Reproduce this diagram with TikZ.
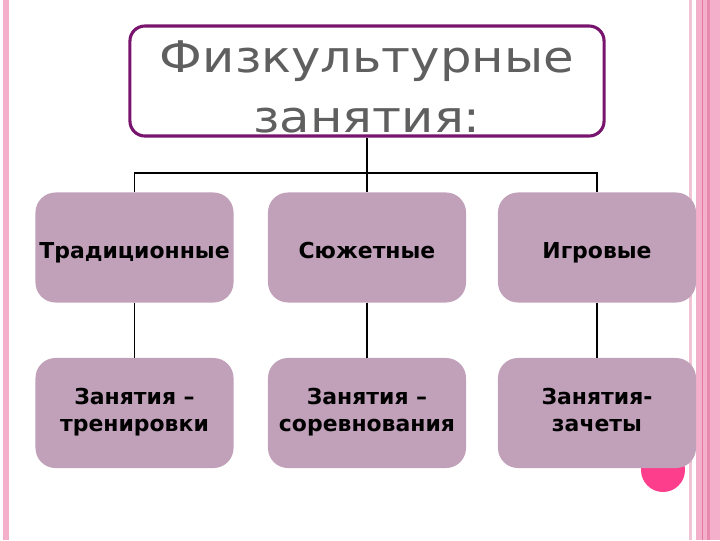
\documentclass[tikz,border=0pt]{standalone}
\usepackage{fontspec}
\setmainfont{DejaVu Sans}
\newfontfamily\titlefont[FakeStretch=1.14]{DejaVu Sans}
\usepackage{xcolor}
\usetikzlibrary{positioning}

\definecolor{framepurple}{RGB}{120,20,110}
\definecolor{titlegray}{RGB}{95,95,95}
\definecolor{mauve}{RGB}{192,161,185}
\definecolor{dotpink}{RGB}{252,62,140}
\definecolor{bandpink}{RGB}{244,176,202}
\definecolor{bandlight}{RGB}{240,196,212}
\definecolor{banddark}{RGB}{228,120,160}

\begin{document}
\begin{tikzpicture}[x=0.025cm, y=-0.025cm,
    kind/.style={fill=mauve, rounded corners=0.5cm, minimum width=4.95cm,
                 minimum height=2.75cm, align=center, inner sep=0pt,
                 font=\fontsize{15.6}{19.2}\selectfont\bfseries,
                 execute at begin node={\rule{0pt}{20pt}},
                 execute at end node={\rule[-4pt]{0pt}{4pt}}},
    conn/.style={black, line width=1.3pt}]
    % 1. Khung trang: nền trắng và các sọc hồng
    \useasboundingbox (0,0) rectangle (720,540);
    \fill[white] (0,0) rectangle (720,540);
    \fill[bandpink] (3,0) rectangle (9,540);
    \fill[bandlight] (689,0) rectangle (692,540);
    \fill[bandpink] (696,0) rectangle (720,540);
    \fill[banddark] (701.5,0) rectangle (702.5,540);
    \fill[banddark!70!bandpink] (707,0) rectangle (710,540);

    % 2. Chấm hồng phía sau ô cuối
    \fill[dotpink] (663,470) circle (22);

    % 3. Ô tiêu đề
    \node[draw=framepurple, line width=2.2pt, rounded corners=0.375cm, fill=white,
          minimum width=11.85cm, minimum height=2.75cm, align=center, inner sep=0pt,
          text=titlegray, font=\titlefont\fontsize{31}{43}\selectfont] (title) at (367,81)
          {\rule{0pt}{31pt}Физкультурные\\занятия:};

    % 4. Hàng ô thứ nhất
    \node[kind] (trad) at (134.5,247.5) {Традиционные};
    \node[kind] (plot) at (367,247.5) {Сюжетные};
    \node[kind] (games) at (597,247.5) {Игровые};

    % 5. Hàng ô thứ hai
    \node[kind] (train) at (134.5,413) {Занятия –\\тренировки};
    \node[kind] (contest) at (367,413) {Занятия –\\соревнования};
    \node[kind] (tests) at (597,413) {Занятия-\\зачеты};

    % 6. Đường nối
    \draw[conn] (title.south) -- (plot.north);
    \draw[conn] (trad.north) -- ++(0,-19) -| (games.north);
    \draw[conn] (trad.south) -- (train.north);
    \draw[conn] (plot.south) -- (contest.north);
    \draw[conn] (games.south) -- (tests.north);
\end{tikzpicture}
\end{document}
